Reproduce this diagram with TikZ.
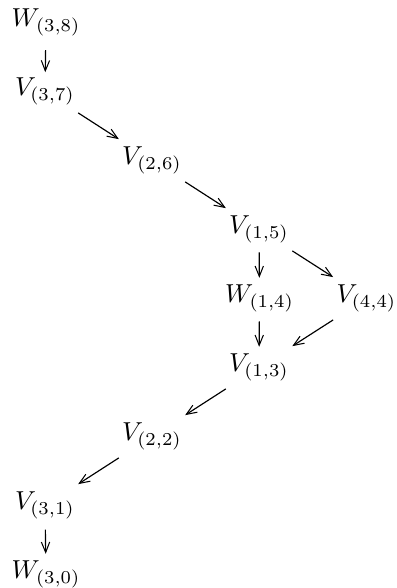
\documentclass[tikz,border=0pt]{standalone}
\usetikzlibrary{arrows.meta,calc}
\tikzset{
  lbl/.style={inner sep=0pt, outer sep=0pt},
  arr/.style={-{Straight Barb[length=4pt,width=3.2pt,line width=0.4pt]}, line width=0.45pt}
}
\begin{document}
\begin{tikzpicture}[x=0.385pt, y=-0.385pt]
\useasboundingbox (0,0) rectangle (396,588);
\node[lbl] (w38) at (46,22.5) {$W_{(3,8)}$};
\node[lbl] (v37) at (45,91.5) {$V_{(3,7)}$};
\node[lbl] (v26) at (152,160.5) {$V_{(2,6)}$};
\node[lbl] (v15) at (259,229.5) {$V_{(1,5)}$};
\node[lbl] (w14) at (259.5,298.5) {$W_{(1,4)}$};
\node[lbl] (v44) at (366.5,298.5) {$V_{(4,4)}$};
\node[lbl] (v13) at (259,367.5) {$V_{(1,3)}$};
\node[lbl] (v22) at (152,436.5) {$V_{(2,2)}$};
\node[lbl] (v31) at (45,505.5) {$V_{(3,1)}$};
\node[lbl] (w30) at (46,574.5) {$W_{(3,0)}$};
\newcommand{\conn}[4]{\draw[arr] ($(#1)!#3!(#2)$) -- ($(#1)!#4!(#2)$);}
\conn{w38}{v37}{0.40}{0.72}
\conn{v37}{v26}{0.31}{0.69}
\conn{v26}{v15}{0.31}{0.69}
\conn{v15}{w14}{0.33}{0.70}
\conn{v15}{v44}{0.31}{0.69}
\conn{w14}{v13}{0.33}{0.70}
\conn{v44}{v13}{0.31}{0.69}
\conn{v13}{v22}{0.31}{0.69}
\conn{v22}{v31}{0.31}{0.69}
\conn{v31}{w30}{0.35}{0.70}
\end{tikzpicture}
\end{document}
